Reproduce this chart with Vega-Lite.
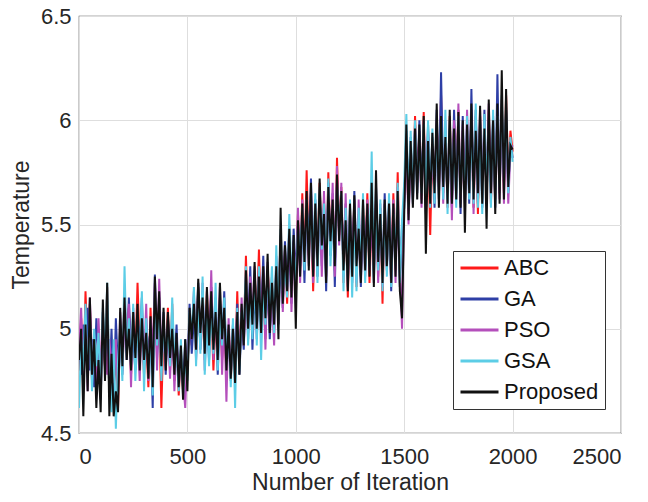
{
"$schema": "https://vega.github.io/schema/vega-lite/v6.json",
"width": 542, "height": 417,
"autosize": {"type": "none"},
"padding": {"left": 79, "top": 16, "right": 27, "bottom": 69},
"background": "white",
"config": {
 "font": "Liberation Sans",
 "view": {"stroke": "#555", "strokeWidth": 1.2},
 "axis": {"domain": false, "ticks": false, "grid": true, "gridColor": "#dedede", "gridWidth": 1, "labelFont": "Liberation Sans", "labelFontSize": 22, "labelColor": "#262626", "titleFont": "Liberation Sans", "titleFontSize": 23, "titleFontWeight": "normal", "titleColor": "#262626"},
 "legend": {"orient": "none", "legendX": 374, "legendY": 235, "strokeColor": "#333", "fillColor": "white", "padding": 6, "labelFont": "Liberation Sans", "labelFontSize": 22, "labelColor": "#111", "symbolType": "M-1,0H3", "symbolSize": 361, "symbolStrokeWidth": 3, "labelOffset": 23, "rowPadding": 9}
},
"data": {"values": [
{"x":0,"ABC":4.80,"GA":4.95,"PSO":4.90,"GSA":4.62,"Proposed":4.85},
{"x":10,"ABC":5.05,"GA":4.78,"PSO":5.10,"GSA":4.95,"Proposed":5.00},
{"x":20,"ABC":4.72,"GA":5.02,"PSO":4.75,"GSA":4.80,"Proposed":4.58},
{"x":30,"ABC":5.18,"GA":4.85,"PSO":4.98,"GSA":5.12,"Proposed":5.02},
{"x":40,"ABC":4.88,"GA":5.10,"PSO":4.70,"GSA":4.76,"Proposed":4.70},
{"x":50,"ABC":5.12,"GA":4.80,"PSO":5.15,"GSA":5.05,"Proposed":5.15},
{"x":60,"ABC":4.75,"GA":4.95,"PSO":4.85,"GSA":4.70,"Proposed":4.78},
{"x":70,"ABC":4.98,"GA":4.72,"PSO":4.92,"GSA":5.00,"Proposed":4.95},
{"x":80,"ABC":4.70,"GA":5.05,"PSO":4.68,"GSA":4.82,"Proposed":4.62},
{"x":90,"ABC":5.00,"GA":4.88,"PSO":5.05,"GSA":4.98,"Proposed":4.85},
{"x":100,"ABC":4.78,"GA":4.66,"PSO":4.80,"GSA":4.70,"Proposed":4.60},
{"x":110,"ABC":4.95,"GA":5.08,"PSO":4.92,"GSA":5.10,"Proposed":5.14},
{"x":120,"ABC":4.82,"GA":4.80,"PSO":5.00,"GSA":4.85,"Proposed":4.75},
{"x":130,"ABC":5.20,"GA":4.95,"PSO":4.78,"GSA":5.22,"Proposed":5.22},
{"x":140,"ABC":4.74,"GA":4.72,"PSO":4.95,"GSA":4.80,"Proposed":4.58},
{"x":150,"ABC":4.95,"GA":5.00,"PSO":4.82,"GSA":4.60,"Proposed":4.88},
{"x":160,"ABC":4.70,"GA":4.65,"PSO":4.74,"GSA":4.95,"Proposed":4.58},
{"x":170,"ABC":4.88,"GA":5.05,"PSO":4.95,"GSA":4.52,"Proposed":4.70},
{"x":180,"ABC":4.62,"GA":4.80,"PSO":4.68,"GSA":4.85,"Proposed":4.60},
{"x":190,"ABC":5.02,"GA":4.95,"PSO":5.08,"GSA":5.00,"Proposed":5.10},
{"x":200,"ABC":4.85,"GA":4.78,"PSO":4.80,"GSA":4.75,"Proposed":4.82},
{"x":210,"ABC":5.17,"GA":5.12,"PSO":5.05,"GSA":5.30,"Proposed":5.15},
{"x":220,"ABC":4.90,"GA":4.85,"PSO":4.95,"GSA":4.88,"Proposed":4.85},
{"x":230,"ABC":5.10,"GA":5.15,"PSO":5.12,"GSA":5.05,"Proposed":5.00},
{"x":240,"ABC":4.78,"GA":4.88,"PSO":4.72,"GSA":4.82,"Proposed":4.80},
{"x":250,"ABC":5.05,"GA":4.95,"PSO":5.10,"GSA":5.12,"Proposed":5.08},
{"x":260,"ABC":4.85,"GA":4.80,"PSO":4.88,"GSA":4.75,"Proposed":4.86},
{"x":270,"ABC":5.22,"GA":5.05,"PSO":4.98,"GSA":5.00,"Proposed":5.12},
{"x":280,"ABC":4.90,"GA":4.92,"PSO":4.75,"GSA":4.88,"Proposed":4.80},
{"x":290,"ABC":5.00,"GA":5.15,"PSO":5.08,"GSA":5.18,"Proposed":5.05},
{"x":300,"ABC":4.78,"GA":4.82,"PSO":4.82,"GSA":4.70,"Proposed":4.85},
{"x":310,"ABC":4.95,"GA":5.02,"PSO":5.12,"GSA":5.05,"Proposed":4.98},
{"x":320,"ABC":4.72,"GA":4.88,"PSO":4.75,"GSA":4.80,"Proposed":4.76},
{"x":330,"ABC":5.10,"GA":5.00,"PSO":5.05,"GSA":4.95,"Proposed":5.06},
{"x":340,"ABC":4.80,"GA":4.62,"PSO":4.90,"GSA":4.68,"Proposed":4.72},
{"x":350,"ABC":5.15,"GA":5.26,"PSO":5.22,"GSA":5.18,"Proposed":5.25},
{"x":360,"ABC":4.90,"GA":4.85,"PSO":4.80,"GSA":4.92,"Proposed":4.95},
{"x":370,"ABC":5.05,"GA":5.15,"PSO":5.24,"GSA":5.10,"Proposed":5.18},
{"x":380,"ABC":4.62,"GA":4.80,"PSO":4.85,"GSA":4.75,"Proposed":4.82},
{"x":390,"ABC":5.00,"GA":5.08,"PSO":4.95,"GSA":5.02,"Proposed":5.10},
{"x":400,"ABC":4.85,"GA":4.78,"PSO":4.82,"GSA":4.88,"Proposed":4.80},
{"x":410,"ABC":5.10,"GA":5.05,"PSO":5.00,"GSA":4.98,"Proposed":5.08},
{"x":420,"ABC":4.80,"GA":4.88,"PSO":4.76,"GSA":4.82,"Proposed":4.86},
{"x":430,"ABC":5.12,"GA":4.95,"PSO":5.05,"GSA":5.15,"Proposed":5.00},
{"x":440,"ABC":4.75,"GA":4.82,"PSO":4.70,"GSA":4.85,"Proposed":4.78},
{"x":450,"ABC":4.95,"GA":5.02,"PSO":4.95,"GSA":4.88,"Proposed":4.98},
{"x":460,"ABC":4.68,"GA":4.75,"PSO":4.72,"GSA":4.70,"Proposed":4.72},
{"x":470,"ABC":4.90,"GA":4.88,"PSO":4.85,"GSA":4.95,"Proposed":4.92},
{"x":480,"ABC":4.70,"GA":4.72,"PSO":4.75,"GSA":4.68,"Proposed":4.66},
{"x":490,"ABC":4.88,"GA":4.95,"PSO":4.62,"GSA":4.85,"Proposed":4.95},
{"x":500,"ABC":4.80,"GA":4.78,"PSO":4.90,"GSA":4.75,"Proposed":4.70},
{"x":510,"ABC":5.05,"GA":5.12,"PSO":5.00,"GSA":5.08,"Proposed":5.10},
{"x":520,"ABC":4.92,"GA":4.88,"PSO":4.95,"GSA":4.98,"Proposed":4.95},
{"x":530,"ABC":5.15,"GA":5.05,"PSO":5.18,"GSA":5.20,"Proposed":5.12},
{"x":540,"ABC":4.88,"GA":4.95,"PSO":4.85,"GSA":4.82,"Proposed":4.90},
{"x":550,"ABC":5.20,"GA":5.22,"PSO":5.10,"GSA":5.15,"Proposed":5.24},
{"x":560,"ABC":4.95,"GA":4.90,"PSO":4.92,"GSA":4.88,"Proposed":4.98},
{"x":570,"ABC":5.10,"GA":5.18,"PSO":5.22,"GSA":5.25,"Proposed":5.15},
{"x":580,"ABC":4.85,"GA":4.92,"PSO":4.80,"GSA":4.78,"Proposed":4.88},
{"x":590,"ABC":5.18,"GA":5.08,"PSO":5.12,"GSA":5.05,"Proposed":5.20},
{"x":600,"ABC":4.90,"GA":4.85,"PSO":4.88,"GSA":4.82,"Proposed":4.92},
{"x":610,"ABC":5.12,"GA":5.20,"PSO":5.28,"GSA":5.10,"Proposed":5.18},
{"x":620,"ABC":4.80,"GA":4.95,"PSO":4.85,"GSA":4.88,"Proposed":4.90},
{"x":630,"ABC":5.05,"GA":5.10,"PSO":5.15,"GSA":5.22,"Proposed":5.08},
{"x":640,"ABC":4.92,"GA":4.78,"PSO":4.90,"GSA":4.80,"Proposed":4.85},
{"x":650,"ABC":5.15,"GA":5.12,"PSO":5.20,"GSA":5.08,"Proposed":5.22},
{"x":660,"ABC":4.85,"GA":4.90,"PSO":4.78,"GSA":4.92,"Proposed":4.95},
{"x":670,"ABC":5.05,"GA":5.18,"PSO":5.08,"GSA":5.15,"Proposed":5.10},
{"x":680,"ABC":4.78,"GA":4.82,"PSO":4.65,"GSA":4.85,"Proposed":4.80},
{"x":690,"ABC":5.00,"GA":4.95,"PSO":5.05,"GSA":4.98,"Proposed":5.02},
{"x":700,"ABC":4.75,"GA":4.80,"PSO":4.78,"GSA":4.72,"Proposed":4.76},
{"x":710,"ABC":4.98,"GA":5.02,"PSO":4.92,"GSA":5.05,"Proposed":5.00},
{"x":720,"ABC":4.80,"GA":4.85,"PSO":4.82,"GSA":4.62,"Proposed":4.74},
{"x":730,"ABC":5.18,"GA":5.12,"PSO":5.05,"GSA":5.10,"Proposed":5.08},
{"x":740,"ABC":4.82,"GA":4.78,"PSO":4.85,"GSA":4.80,"Proposed":4.78},
{"x":750,"ABC":5.10,"GA":5.05,"PSO":5.15,"GSA":5.08,"Proposed":5.12},
{"x":760,"ABC":4.95,"GA":4.90,"PSO":4.92,"GSA":5.00,"Proposed":4.92},
{"x":770,"ABC":5.35,"GA":5.25,"PSO":5.20,"GSA":5.30,"Proposed":5.28},
{"x":780,"ABC":4.98,"GA":5.02,"PSO":4.95,"GSA":4.92,"Proposed":5.00},
{"x":790,"ABC":5.20,"GA":5.30,"PSO":5.25,"GSA":5.18,"Proposed":5.22},
{"x":800,"ABC":5.00,"GA":4.90,"PSO":5.05,"GSA":4.95,"Proposed":5.02},
{"x":810,"ABC":5.25,"GA":5.18,"PSO":5.30,"GSA":5.28,"Proposed":5.32},
{"x":820,"ABC":5.05,"GA":5.00,"PSO":4.95,"GSA":4.92,"Proposed":5.00},
{"x":830,"ABC":5.38,"GA":5.28,"PSO":5.22,"GSA":5.30,"Proposed":5.25},
{"x":840,"ABC":5.02,"GA":5.05,"PSO":5.08,"GSA":4.85,"Proposed":4.98},
{"x":850,"ABC":5.22,"GA":5.35,"PSO":5.28,"GSA":5.20,"Proposed":5.30},
{"x":860,"ABC":4.95,"GA":5.00,"PSO":4.90,"GSA":5.02,"Proposed":5.05},
{"x":870,"ABC":5.30,"GA":5.22,"PSO":5.32,"GSA":5.25,"Proposed":5.36},
{"x":880,"ABC":5.05,"GA":4.95,"PSO":5.00,"GSA":5.08,"Proposed":4.98},
{"x":890,"ABC":5.25,"GA":5.20,"PSO":5.15,"GSA":5.30,"Proposed":5.22},
{"x":900,"ABC":5.00,"GA":5.05,"PSO":4.92,"GSA":4.98,"Proposed":5.02},
{"x":910,"ABC":5.32,"GA":5.28,"PSO":5.35,"GSA":5.40,"Proposed":5.30},
{"x":920,"ABC":5.08,"GA":5.02,"PSO":5.10,"GSA":5.05,"Proposed":4.95},
{"x":930,"ABC":5.40,"GA":5.35,"PSO":5.45,"GSA":5.48,"Proposed":5.58},
{"x":940,"ABC":5.15,"GA":5.10,"PSO":5.08,"GSA":5.18,"Proposed":5.12},
{"x":950,"ABC":5.38,"GA":5.42,"PSO":5.35,"GSA":5.30,"Proposed":5.40},
{"x":960,"ABC":5.12,"GA":5.18,"PSO":5.20,"GSA":5.15,"Proposed":5.18},
{"x":970,"ABC":5.45,"GA":5.40,"PSO":5.50,"GSA":5.55,"Proposed":5.48},
{"x":980,"ABC":5.20,"GA":5.12,"PSO":5.08,"GSA":5.25,"Proposed":5.15},
{"x":990,"ABC":5.42,"GA":5.48,"PSO":5.40,"GSA":5.38,"Proposed":5.45},
{"x":1000,"ABC":5.15,"GA":5.25,"PSO":5.20,"GSA":5.22,"Proposed":5.00},
{"x":1010,"ABC":5.55,"GA":5.50,"PSO":5.58,"GSA":5.48,"Proposed":5.52},
{"x":1020,"ABC":5.28,"GA":5.30,"PSO":5.22,"GSA":5.35,"Proposed":5.25},
{"x":1030,"ABC":5.65,"GA":5.55,"PSO":5.62,"GSA":5.58,"Proposed":5.60},
{"x":1040,"ABC":5.30,"GA":5.22,"PSO":5.35,"GSA":5.28,"Proposed":5.32},
{"x":1050,"ABC":5.76,"GA":5.60,"PSO":5.55,"GSA":5.62,"Proposed":5.66},
{"x":1060,"ABC":5.35,"GA":5.40,"PSO":5.30,"GSA":5.38,"Proposed":5.28},
{"x":1070,"ABC":5.60,"GA":5.72,"PSO":5.65,"GSA":5.55,"Proposed":5.70},
{"x":1080,"ABC":5.18,"GA":5.28,"PSO":5.22,"GSA":5.30,"Proposed":5.25},
{"x":1090,"ABC":5.55,"GA":5.62,"PSO":5.58,"GSA":5.65,"Proposed":5.60},
{"x":1100,"ABC":5.32,"GA":5.25,"PSO":5.35,"GSA":5.22,"Proposed":5.30},
{"x":1110,"ABC":5.70,"GA":5.65,"PSO":5.62,"GSA":5.68,"Proposed":5.72},
{"x":1120,"ABC":5.35,"GA":5.30,"PSO":5.25,"GSA":5.38,"Proposed":5.40},
{"x":1130,"ABC":5.62,"GA":5.58,"PSO":5.66,"GSA":5.60,"Proposed":5.55},
{"x":1140,"ABC":5.25,"GA":5.18,"PSO":5.30,"GSA":5.28,"Proposed":5.22},
{"x":1150,"ABC":5.75,"GA":5.70,"PSO":5.65,"GSA":5.72,"Proposed":5.68},
{"x":1160,"ABC":5.40,"GA":5.35,"PSO":5.38,"GSA":5.30,"Proposed":5.42},
{"x":1170,"ABC":5.60,"GA":5.65,"PSO":5.70,"GSA":5.58,"Proposed":5.62},
{"x":1180,"ABC":5.28,"GA":5.20,"PSO":5.25,"GSA":5.32,"Proposed":5.30},
{"x":1190,"ABC":5.82,"GA":5.68,"PSO":5.78,"GSA":5.70,"Proposed":5.74},
{"x":1200,"ABC":5.45,"GA":5.50,"PSO":5.40,"GSA":5.48,"Proposed":5.42},
{"x":1210,"ABC":5.68,"GA":5.62,"PSO":5.70,"GSA":5.65,"Proposed":5.66},
{"x":1220,"ABC":5.22,"GA":5.30,"PSO":5.25,"GSA":5.18,"Proposed":5.28},
{"x":1230,"ABC":5.55,"GA":5.60,"PSO":5.65,"GSA":5.58,"Proposed":5.52},
{"x":1240,"ABC":5.15,"GA":5.25,"PSO":5.20,"GSA":5.22,"Proposed":5.18},
{"x":1250,"ABC":5.58,"GA":5.52,"PSO":5.55,"GSA":5.62,"Proposed":5.60},
{"x":1260,"ABC":5.30,"GA":5.22,"PSO":5.35,"GSA":5.15,"Proposed":5.25},
{"x":1270,"ABC":5.62,"GA":5.66,"PSO":5.58,"GSA":5.55,"Proposed":5.64},
{"x":1280,"ABC":5.20,"GA":5.28,"PSO":5.22,"GSA":5.18,"Proposed":5.30},
{"x":1290,"ABC":5.55,"GA":5.50,"PSO":5.62,"GSA":5.58,"Proposed":5.48},
{"x":1300,"ABC":5.25,"GA":5.20,"PSO":5.30,"GSA":5.28,"Proposed":5.22},
{"x":1310,"ABC":5.60,"GA":5.55,"PSO":5.50,"GSA":5.65,"Proposed":5.62},
{"x":1320,"ABC":5.30,"GA":5.35,"PSO":5.25,"GSA":5.22,"Proposed":5.28},
{"x":1330,"ABC":5.65,"GA":5.58,"PSO":5.62,"GSA":5.55,"Proposed":5.60},
{"x":1340,"ABC":5.22,"GA":5.30,"PSO":5.28,"GSA":5.35,"Proposed":5.25},
{"x":1350,"ABC":5.55,"GA":5.60,"PSO":5.52,"GSA":5.85,"Proposed":5.70},
{"x":1360,"ABC":5.28,"GA":5.22,"PSO":5.30,"GSA":5.25,"Proposed":5.20},
{"x":1370,"ABC":5.62,"GA":5.68,"PSO":5.60,"GSA":5.55,"Proposed":5.76},
{"x":1380,"ABC":5.25,"GA":5.30,"PSO":5.22,"GSA":5.28,"Proposed":5.32},
{"x":1390,"ABC":5.58,"GA":5.52,"PSO":5.60,"GSA":5.62,"Proposed":5.55},
{"x":1400,"ABC":5.12,"GA":5.25,"PSO":5.20,"GSA":5.18,"Proposed":5.22},
{"x":1410,"ABC":5.60,"GA":5.65,"PSO":5.55,"GSA":5.58,"Proposed":5.62},
{"x":1420,"ABC":5.30,"GA":5.28,"PSO":5.35,"GSA":5.25,"Proposed":5.30},
{"x":1430,"ABC":5.55,"GA":5.62,"PSO":5.58,"GSA":5.65,"Proposed":5.60},
{"x":1440,"ABC":5.22,"GA":5.18,"PSO":5.25,"GSA":5.20,"Proposed":5.22},
{"x":1450,"ABC":5.65,"GA":5.58,"PSO":5.62,"GSA":5.55,"Proposed":5.60},
{"x":1460,"ABC":5.28,"GA":5.30,"PSO":5.22,"GSA":5.35,"Proposed":5.25},
{"x":1470,"ABC":5.75,"GA":5.62,"PSO":5.68,"GSA":5.70,"Proposed":5.66},
{"x":1480,"ABC":5.25,"GA":5.20,"PSO":5.30,"GSA":5.22,"Proposed":5.18},
{"x":1490,"ABC":5.45,"GA":5.50,"PSO":5.00,"GSA":5.52,"Proposed":5.05},
{"x":1500,"ABC":5.62,"GA":5.58,"PSO":5.65,"GSA":5.70,"Proposed":5.55},
{"x":1510,"ABC":5.90,"GA":5.95,"PSO":5.88,"GSA":6.03,"Proposed":5.98},
{"x":1520,"ABC":5.55,"GA":5.62,"PSO":5.50,"GSA":5.58,"Proposed":5.52},
{"x":1530,"ABC":5.88,"GA":5.92,"PSO":5.85,"GSA":5.95,"Proposed":5.90},
{"x":1540,"ABC":5.65,"GA":5.60,"PSO":5.68,"GSA":5.62,"Proposed":5.58},
{"x":1550,"ABC":6.02,"GA":5.98,"PSO":5.95,"GSA":6.00,"Proposed":5.96},
{"x":1560,"ABC":5.70,"GA":5.65,"PSO":5.72,"GSA":5.68,"Proposed":5.62},
{"x":1570,"ABC":5.95,"GA":6.00,"PSO":5.92,"GSA":5.88,"Proposed":5.98},
{"x":1580,"ABC":5.62,"GA":5.68,"PSO":5.58,"GSA":5.65,"Proposed":5.60},
{"x":1590,"ABC":6.04,"GA":5.95,"PSO":6.00,"GSA":5.98,"Proposed":6.02},
{"x":1600,"ABC":5.58,"GA":5.62,"PSO":5.55,"GSA":5.60,"Proposed":5.36},
{"x":1610,"ABC":5.92,"GA":5.98,"PSO":5.95,"GSA":6.00,"Proposed":5.90},
{"x":1620,"ABC":5.45,"GA":5.65,"PSO":5.62,"GSA":5.58,"Proposed":5.60},
{"x":1630,"ABC":5.88,"GA":5.92,"PSO":5.85,"GSA":5.96,"Proposed":5.94},
{"x":1640,"ABC":5.62,"GA":5.58,"PSO":5.65,"GSA":5.60,"Proposed":5.65},
{"x":1650,"ABC":5.98,"GA":6.05,"PSO":6.00,"GSA":5.95,"Proposed":6.08},
{"x":1660,"ABC":5.70,"GA":5.62,"PSO":5.68,"GSA":5.72,"Proposed":5.58},
{"x":1670,"ABC":6.12,"GA":6.23,"PSO":5.95,"GSA":6.00,"Proposed":6.02},
{"x":1680,"ABC":5.65,"GA":5.70,"PSO":5.60,"GSA":5.62,"Proposed":5.68},
{"x":1690,"ABC":5.95,"GA":5.90,"PSO":6.00,"GSA":6.05,"Proposed":5.92},
{"x":1700,"ABC":5.58,"GA":5.62,"PSO":5.65,"GSA":5.55,"Proposed":5.60},
{"x":1710,"ABC":6.02,"GA":5.96,"PSO":5.92,"GSA":6.00,"Proposed":6.05},
{"x":1720,"ABC":5.62,"GA":5.58,"PSO":5.52,"GSA":5.65,"Proposed":5.60},
{"x":1730,"ABC":5.98,"GA":6.05,"PSO":6.00,"GSA":5.92,"Proposed":5.96},
{"x":1740,"ABC":5.65,"GA":5.68,"PSO":5.62,"GSA":5.58,"Proposed":5.62},
{"x":1750,"ABC":6.05,"GA":6.00,"PSO":6.08,"GSA":6.02,"Proposed":6.04},
{"x":1760,"ABC":5.60,"GA":5.55,"PSO":5.62,"GSA":5.65,"Proposed":5.58},
{"x":1770,"ABC":5.95,"GA":6.02,"PSO":5.98,"GSA":5.90,"Proposed":6.00},
{"x":1780,"ABC":5.62,"GA":5.65,"PSO":5.58,"GSA":5.60,"Proposed":5.46},
{"x":1790,"ABC":6.00,"GA":5.95,"PSO":6.05,"GSA":6.02,"Proposed":5.98},
{"x":1800,"ABC":5.65,"GA":5.60,"PSO":5.68,"GSA":5.62,"Proposed":5.65},
{"x":1810,"ABC":6.05,"GA":6.15,"PSO":6.00,"GSA":5.98,"Proposed":6.08},
{"x":1820,"ABC":5.58,"GA":5.62,"PSO":5.55,"GSA":5.60,"Proposed":5.62},
{"x":1830,"ABC":6.00,"GA":6.05,"PSO":6.02,"GSA":6.08,"Proposed":5.95},
{"x":1840,"ABC":5.55,"GA":5.60,"PSO":5.62,"GSA":5.58,"Proposed":5.65},
{"x":1850,"ABC":6.02,"GA":5.98,"PSO":6.05,"GSA":6.00,"Proposed":6.07},
{"x":1860,"ABC":5.62,"GA":5.58,"PSO":5.65,"GSA":5.55,"Proposed":5.60},
{"x":1870,"ABC":5.98,"GA":6.05,"PSO":6.00,"GSA":6.03,"Proposed":5.96},
{"x":1880,"ABC":5.65,"GA":5.62,"PSO":5.60,"GSA":5.68,"Proposed":5.48},
{"x":1890,"ABC":6.05,"GA":6.00,"PSO":6.08,"GSA":5.95,"Proposed":6.10},
{"x":1900,"ABC":5.60,"GA":5.68,"PSO":5.62,"GSA":5.58,"Proposed":5.65},
{"x":1910,"ABC":5.95,"GA":6.02,"PSO":5.98,"GSA":6.05,"Proposed":6.00},
{"x":1920,"ABC":5.62,"GA":5.58,"PSO":5.65,"GSA":5.60,"Proposed":5.55},
{"x":1930,"ABC":6.05,"GA":6.22,"PSO":6.00,"GSA":6.02,"Proposed":6.08},
{"x":1940,"ABC":5.70,"GA":5.65,"PSO":5.62,"GSA":5.68,"Proposed":5.60},
{"x":1950,"ABC":6.10,"GA":6.05,"PSO":6.08,"GSA":6.12,"Proposed":6.24},
{"x":1960,"ABC":5.65,"GA":5.70,"PSO":5.60,"GSA":5.72,"Proposed":5.62},
{"x":1970,"ABC":6.12,"GA":6.05,"PSO":6.00,"GSA":6.08,"Proposed":6.15},
{"x":1980,"ABC":5.70,"GA":5.66,"PSO":5.60,"GSA":5.65,"Proposed":5.68},
{"x":1990,"ABC":5.95,"GA":5.90,"PSO":5.85,"GSA":5.92,"Proposed":5.88},
{"x":2000,"ABC":5.85,"GA":5.82,"PSO":5.88,"GSA":5.80,"Proposed":5.86}
]},
"transform": [{"fold": ["ABC", "GA", "PSO", "GSA", "Proposed"], "as": ["series", "T"]}],
"mark": {"type": "line", "strokeWidth": 2, "clip": true},
"encoding": {
 "x": {"field": "x", "type": "quantitative", "scale": {"domain": [0, 2500], "nice": false, "zero": false}, "axis": {"values": [0, 500, 1000, 1500, 2000, 2500], "format": "d", "title": "Number of Iteration", "labelPadding": 13, "titleY": 56, "titleBaseline": "alphabetic"}},
 "y": {"field": "T", "type": "quantitative", "scale": {"domain": [4.5, 6.5], "nice": false, "zero": false}, "axis": {"values": [4.5, 5, 5.5, 6, 6.5], "format": "~g", "title": "Temperature", "labelPadding": 8, "titleX": -51, "titleBaseline": "alphabetic"}},
 "color": {"field": "series", "type": "nominal", "title": null, "scale": {"domain": ["ABC", "GA", "PSO", "GSA", "Proposed"], "range": ["#ff1a1a", "#2e3fa6", "#b44fbb", "#5ccde6", "#111111"]}}
}
}
